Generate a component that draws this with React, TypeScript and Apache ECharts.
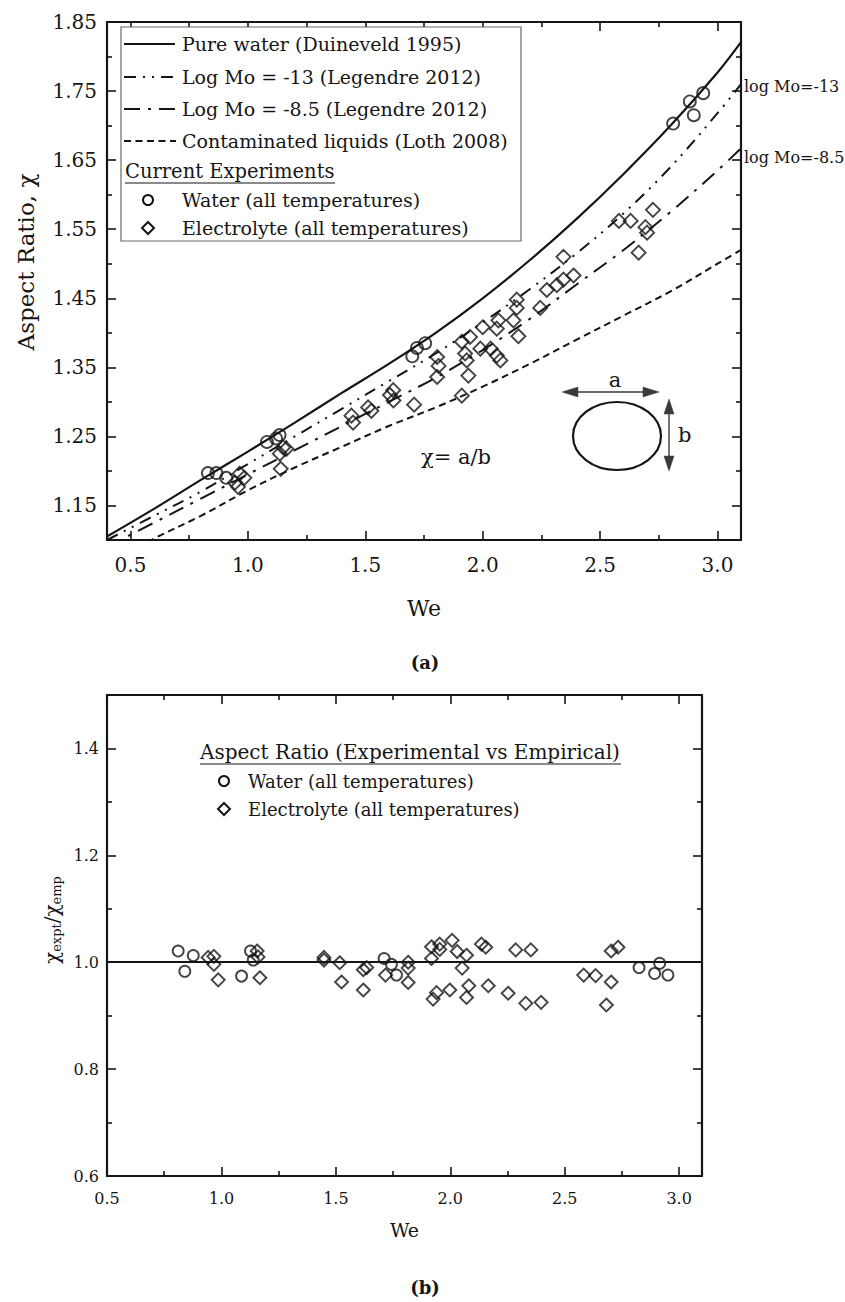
import React, { useEffect, useRef } from "react";
import * as echarts from "echarts";

const FONT = '"DejaVu Serif", serif';
const INK = "#151515";

// ---------- (a) empirical curves ----------
const WE_CURVE = [0.4, 0.6, 0.8, 1.0, 1.2, 1.4, 1.6, 1.8, 2.0, 2.2, 2.4, 2.6, 2.8, 3.0, 3.1];
const PURE_WATER = [1.105, 1.145, 1.187, 1.228, 1.27, 1.313, 1.355, 1.4, 1.45, 1.505, 1.565, 1.63, 1.7, 1.777, 1.821];
const LOG_MO_13 = [1.1, 1.135, 1.17, 1.21, 1.25, 1.29, 1.33, 1.37, 1.415, 1.463, 1.515, 1.573, 1.64, 1.718, 1.76];
const LOG_MO_85 = [1.09, 1.125, 1.16, 1.195, 1.23, 1.265, 1.3, 1.335, 1.375, 1.42, 1.47, 1.52, 1.575, 1.635, 1.667];
const LOTH = [1.065, 1.102, 1.135, 1.172, 1.205, 1.235, 1.265, 1.292, 1.322, 1.355, 1.39, 1.425, 1.46, 1.5, 1.52];

// ---------- (a) experiments ----------
const WATER_WE = [0.83, 0.866, 0.908, 1.081, 1.12, 1.135, 1.7, 1.72, 1.755, 2.811, 2.882, 2.899, 2.939];
const WATER_CHI = [1.197, 1.197, 1.19, 1.242, 1.247, 1.252, 1.366, 1.378, 1.385, 1.703, 1.735, 1.715, 1.747];
const ELEC_WE = [
  0.945, 0.958, 0.965, 0.985, 1.136, 1.15, 1.164, 1.14, 1.441, 1.448, 1.512, 1.526, 1.605, 1.619, 1.62, 1.708,
  1.806, 1.812, 1.806, 1.911, 1.946, 1.925, 1.932, 1.939, 1.911, 2.0, 1.99, 2.034, 2.06, 2.067, 2.06, 2.075,
  2.145, 2.145, 2.131, 2.152, 2.245, 2.273, 2.316, 2.344, 2.387, 2.344, 2.58, 2.63, 2.693, 2.7, 2.725, 2.664,
];
const ELEC_CHI = [
  1.183, 1.177, 1.196, 1.19, 1.225, 1.234, 1.232, 1.203, 1.28, 1.27, 1.292, 1.287, 1.31, 1.317, 1.302, 1.296,
  1.365, 1.352, 1.336, 1.387, 1.394, 1.37, 1.36, 1.338, 1.309, 1.408, 1.377, 1.377, 1.406, 1.418, 1.367, 1.36,
  1.448, 1.436, 1.418, 1.395, 1.436, 1.462, 1.469, 1.477, 1.483, 1.51, 1.562, 1.562, 1.553, 1.545, 1.578, 1.516,
];

// ---------- (b) ratios ----------
const RATIO_WATER_WE = [0.811, 0.84, 0.877, 1.088, 1.127, 1.139, 1.711, 1.743, 1.765, 2.825, 2.893, 2.915, 2.951];
const RATIO_WATER = [1.021, 0.983, 1.0125, 0.974, 1.021, 1.004, 1.007, 0.996, 0.976, 0.99, 0.979, 0.998, 0.976];
const RATIO_ELEC_WE = [
  0.942, 0.967, 0.967, 0.986, 1.156, 1.16, 1.168, 1.448, 1.448, 1.517, 1.525, 1.62, 1.635, 1.62, 1.717, 1.816,
  1.816, 1.816, 1.918, 1.954, 1.954, 1.918, 2.008, 2.03, 2.071, 2.052, 2.136, 2.155, 2.286, 2.352, 1.94, 1.925,
  1.998, 2.081, 2.071, 2.166, 2.253, 2.33, 2.397, 2.583, 2.635, 2.703, 2.682, 2.703, 2.733,
];
const RATIO_ELEC = [
  1.009, 1.011, 0.996, 0.967, 1.021, 1.01, 0.971, 1.004, 1.009, 0.999, 0.963, 0.986, 0.99, 0.948, 0.976, 1.0,
  0.989, 0.962, 1.029, 1.034, 1.024, 1.007, 1.041, 1.02, 1.013, 0.989, 1.034, 1.028, 1.023, 1.023, 0.943, 0.931,
  0.948, 0.956, 0.934, 0.956, 0.942, 0.923, 0.925, 0.976, 0.975, 0.963, 0.92, 1.021, 1.028,
];

// ---------- ticks ----------
const TOP_X_LABELS = [0.5, 1.0, 1.5, 2.0, 2.5, 3.0];
const TOP_X_MINOR = [0.75, 1.25, 1.75, 2.25, 2.75];
const TOP_Y_LABELS = [1.15, 1.25, 1.35, 1.45, 1.55, 1.65, 1.75, 1.85];
const TOP_Y_MINOR = [1.2, 1.3, 1.4, 1.5, 1.6, 1.7, 1.8];
const BOT_X_LABELS = [0.5, 1.0, 1.5, 2.0, 2.5, 3.0];
const BOT_X_MINOR = [0.75, 1.25, 1.75, 2.25, 2.75];
const BOT_Y_LABELS = [0.6, 0.8, 1.0, 1.2, 1.4];
const BOT_Y_MINOR = [0.7, 0.9, 1.1, 1.3];

const LEGEND_A = [
  "Pure water (Duineveld 1995)",
  "Log Mo = -13 (Legendre 2012)",
  "Log Mo = -8.5 (Legendre 2012)",
  "Contaminated liquids (Loth 2008)",
];

const zip = (xs: number[], ys: number[]) => xs.map((x, i) => [x, ys[i]]);

const DASH_DDOT = [12, 7, 2, 7, 2, 7];
const DASH_DOT = [16, 8, 3, 8];
const DASH = [7, 4.5];

function axisSet(
  dim: "x" | "y",
  grid: number,
  min: number,
  max: number,
  major: number[],
  minor: number[],
  digits: number,
  fontSize: number,
  margin: number,
  name: string,
  nameGap: number,
  nameTextStyle: any
) {
  const pos = dim === "x" ? ["bottom", "top"] : ["left", "right"];
  const base = { type: "value", gridIndex: grid, min, max, splitLine: { show: false } };
  const tickStyle = { color: INK, width: 1.6 };
  const line = { show: true, onZero: false, lineStyle: { color: INK, width: 2.2 } };
  return [
    {
      ...base,
      position: pos[0],
      name,
      nameLocation: "middle",
      nameGap,
      nameTextStyle,
      axisLine: line,
      axisTick: { show: true, inside: true, length: 9, customValues: major, lineStyle: tickStyle },
      axisLabel: {
        show: true,
        customValues: major,
        formatter: (v: number) => v.toFixed(digits),
        fontFamily: FONT,
        fontSize,
        color: INK,
        margin,
      },
    },
    {
      ...base,
      position: pos[0],
      axisLine: { show: false, onZero: false },
      axisTick: { show: true, inside: true, length: 5, customValues: minor, lineStyle: tickStyle },
      axisLabel: { show: false },
    },
    {
      ...base,
      position: pos[1],
      axisLine: line,
      axisTick: { show: true, inside: true, length: 9, customValues: major, lineStyle: tickStyle },
      axisLabel: { show: false },
    },
    {
      ...base,
      position: pos[1],
      axisLine: { show: false, onZero: false },
      axisTick: { show: true, inside: true, length: 5, customValues: minor, lineStyle: tickStyle },
      axisLabel: { show: false },
    },
  ];
}

function txt(text: string, x: number, y: number, size: number, opts: any = {}) {
  return {
    type: "text",
    z: 100,
    style: {
      text,
      x,
      y,
      fill: INK,
      fontFamily: FONT,
      fontSize: size,
      fontWeight: opts.bold ? "bold" : "normal",
      align: opts.align || "left",
      verticalAlign: "middle",
      textAlign: opts.align || "left",
      textVerticalAlign: "middle",
    },
  };
}
function vtxt(text: string, x: number, y: number, size: number, rich?: any) {
  return {
    type: "text",
    z: 100,
    x,
    y,
    rotation: Math.PI / 2,
    style: {
      text,
      fill: INK,
      fontFamily: FONT,
      fontSize: size,
      align: "center",
      verticalAlign: "middle",
      textAlign: "center",
      textVerticalAlign: "middle",
      rich,
    },
  };
}
function seg(x1: number, y1: number, x2: number, y2: number, width: number, dash?: number[], color = INK) {
  return {
    type: "line",
    z: 100,
    shape: { x1, y1, x2, y2 },
    style: { stroke: color, lineWidth: width, lineDash: dash || null },
  };
}
function diamondIcon(cx: number, cy: number, h: number) {
  return {
    type: "polygon",
    z: 100,
    shape: { points: [[cx, cy - h], [cx + h, cy], [cx, cy + h], [cx - h, cy]] },
    style: { fill: "none", stroke: INK, lineWidth: 2 },
  };
}
function circleIcon(cx: number, cy: number, r: number) {
  return { type: "circle", z: 100, shape: { cx, cy, r }, style: { fill: "none", stroke: INK, lineWidth: 2 } };
}
function tri(points: number[][], color: string) {
  return { type: "polygon", z: 100, shape: { points }, style: { fill: color, stroke: color, lineWidth: 0.5 } };
}

export default function App() {
  const ref = useRef<HTMLDivElement>(null);
  useEffect(() => {
    if (!ref.current) return;
    const chart = echarts.init(ref.current, null, { renderer: "svg" });

    const lineSeries = (name: string, ys: number[], type: any, width = 2) => ({
      name,
      type: "line",
      xAxisIndex: 0,
      yAxisIndex: 0,
      data: zip(WE_CURVE, ys),
      smooth: 0.35,
      symbol: "none",
      clip: true,
      z: 2,
      lineStyle: { color: INK, width, type },
    });
    const marker = { color: "rgba(255,255,255,0)", borderColor: INK, borderWidth: 1.9 };

    const rows = [44, 77, 109, 141, 171, 200, 228];
    const rows2 = [752, 781, 809];
    const arrowC = "#3a3a3a";

    const option: any = {
      animation: false,
      backgroundColor: "#ffffff",
      grid: [
        { left: 107, top: 22, width: 634, height: 518 },
        { left: 107, top: 695, width: 595, height: 481 },
      ],
      xAxis: [
        ...axisSet("x", 0, 0.4, 3.1, TOP_X_LABELS, TOP_X_MINOR, 1, 20, 15, "We", 57, {
          fontFamily: FONT,
          fontSize: 22,
          color: INK,
        }),
        ...axisSet("x", 1, 0.5, 3.1, BOT_X_LABELS, BOT_X_MINOR, 1, 16, 14, "We", 44, {
          fontFamily: FONT,
          fontSize: 19,
          color: INK,
        }),
      ],
      yAxis: [
        ...axisSet("y", 0, 1.1, 1.85, TOP_Y_LABELS, TOP_Y_MINOR, 2, 20, 10, "", 0, {}),
        ...axisSet("y", 1, 0.6, 1.5, BOT_Y_LABELS, BOT_Y_MINOR, 1, 16, 8, "", 0, {}),
      ],
      series: [
        lineSeries(LEGEND_A[0], PURE_WATER, "solid", 2.2),
        lineSeries(LEGEND_A[1], LOG_MO_13, DASH_DDOT),
        lineSeries(LEGEND_A[2], LOG_MO_85, DASH_DOT),
        lineSeries(LEGEND_A[3], LOTH, DASH),
        {
          name: "Water (all temperatures)",
          type: "scatter",
          xAxisIndex: 0,
          yAxisIndex: 0,
          data: zip(WATER_WE, WATER_CHI),
          symbol: "circle",
          symbolSize: 12,
          itemStyle: marker,
          z: 3,
        },
        {
          name: "Electrolyte (all temperatures)",
          type: "scatter",
          xAxisIndex: 0,
          yAxisIndex: 0,
          data: zip(ELEC_WE, ELEC_CHI),
          symbol: "diamond",
          symbolSize: [14, 14],
          itemStyle: marker,
          z: 3,
        },
        {
          name: "Water ratio",
          type: "scatter",
          xAxisIndex: 4,
          yAxisIndex: 4,
          data: zip(RATIO_WATER_WE, RATIO_WATER),
          symbol: "circle",
          symbolSize: 11,
          itemStyle: marker,
          z: 3,
          markLine: {
            silent: true,
            symbol: ["none", "none"],
            label: { show: false },
            lineStyle: { color: INK, width: 2, type: "solid" },
            data: [{ yAxis: 1.0 }],
          },
        },
        {
          name: "Electrolyte ratio",
          type: "scatter",
          xAxisIndex: 4,
          yAxisIndex: 4,
          data: zip(RATIO_ELEC_WE, RATIO_ELEC),
          symbol: "diamond",
          symbolSize: [13, 13],
          itemStyle: marker,
          z: 3,
        },
      ],
      graphic: [
        // y axis titles
        vtxt("Aspect Ratio, χ", 26, 262, 23),
        vtxt("{a|χ}{s|expt}{a|/χ}{s|emp}", 52, 920, 20, {
          a: { fontFamily: FONT, fontSize: 20, fill: INK, color: INK },
          s: { fontFamily: FONT, fontSize: 13, fill: INK, color: INK, verticalAlign: "bottom", padding: [9, 0, 0, 0] },
        }),
        // legend (a)
        {
          type: "rect",
          z: 90,
          shape: { x: 121, y: 27, width: 400, height: 214 },
          style: { fill: "#ffffff", stroke: "#6a6a6a", lineWidth: 1.2 },
        },
        seg(124, rows[0], 175, rows[0], 2.2),
        seg(124, rows[1], 175, rows[1], 2, DASH_DDOT),
        seg(124, rows[2], 175, rows[2], 2, DASH_DOT),
        seg(124, rows[3], 176, rows[3], 2, DASH),
        txt(LEGEND_A[0], 182, rows[0], 19),
        txt(LEGEND_A[1], 182, rows[1], 19),
        txt(LEGEND_A[2], 182, rows[2], 19),
        txt(LEGEND_A[3], 182, rows[3], 19),
        txt("Current Experiments", 125, rows[4], 19.5),
        seg(125, rows[4] + 12, 335, rows[4] + 12, 1.2),
        circleIcon(148, rows[5], 5),
        txt("Water (all temperatures)", 182, rows[5], 19),
        diamondIcon(148, rows[6], 6),
        txt("Electrolyte (all temperatures)", 182, rows[6], 19),
        // curve end labels
        txt("log Mo=-13", 744, 86, 16),
        txt("log Mo=-8.5", 744, 157, 16),
        // chi = a/b and bubble sketch
        txt("χ= a/b", 421, 457, 21),
        {
          type: "ellipse",
          z: 100,
          shape: { cx: 617, cy: 436, rx: 44, ry: 34 },
          style: { fill: "none", stroke: INK, lineWidth: 2.2 },
        },
        seg(570, 392, 651, 392, 1.4, undefined, arrowC),
        tri([[562, 392], [578, 387], [578, 397]], arrowC),
        tri([[659, 392], [643, 387], [643, 397]], arrowC),
        txt("a", 615, 380, 21, { align: "center" }),
        seg(669, 408, 669, 462, 1.4, undefined, arrowC),
        tri([[669, 399], [664, 414], [674, 414]], arrowC),
        tri([[669, 471], [664, 456], [674, 456]], arrowC),
        txt("b", 678, 435, 21),
        // panel captions
        txt("(a)", 425, 662, 18, { bold: true, align: "center" }),
        txt("(b)", 425, 1287, 18, { bold: true, align: "center" }),
        // legend (b)
        txt("Aspect Ratio (Experimental vs Empirical)", 200, rows2[0], 20),
        seg(200, rows2[0] + 12, 621, rows2[0] + 12, 1.2),
        circleIcon(224, rows2[1], 5),
        txt("Water (all temperatures)", 248, rows2[1], 18),
        diamondIcon(224, rows2[2], 6),
        txt("Electrolyte (all temperatures)", 248, rows2[2], 18),
      ],
    };

    chart.setOption(option);
    return () => chart.dispose();
  }, []);

  return (
    <div
      ref={ref}
      style={{ position: "absolute", left: 0, top: 0, width: 845, height: 1302, background: "#fff" }}
    />
  );
}
